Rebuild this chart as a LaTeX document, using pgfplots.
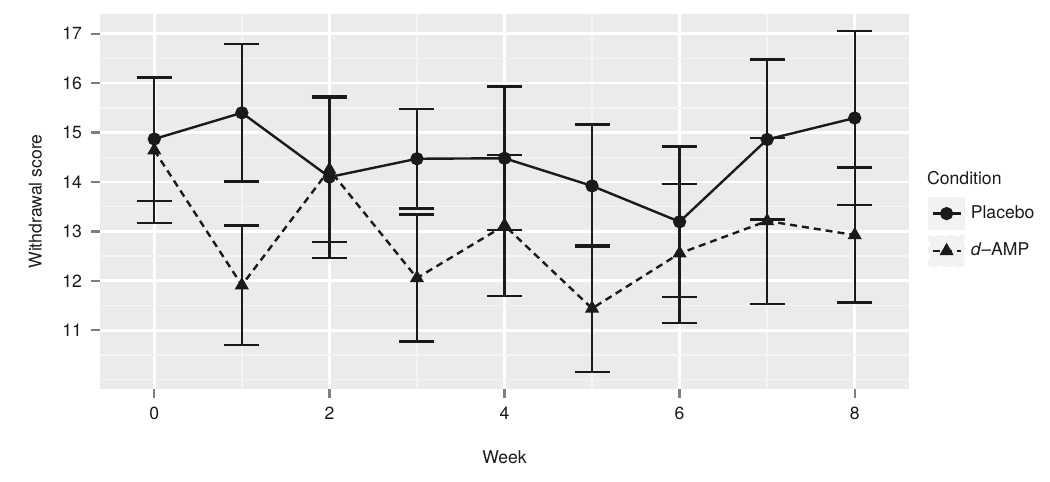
\documentclass[border=0pt]{standalone}
\usepackage{fontspec}
\setmainfont{TeX Gyre Heros}
\usepackage{pgfplots}
\usepackage{pgfplotstable}
\pgfplotsset{compat=1.18}
\definecolor{panelBg}{HTML}{EBEBEB}
\definecolor{minorGrid}{HTML}{F4F4F4}
\definecolor{keyBg}{HTML}{F2F2F2}
\definecolor{tickGray}{HTML}{7F7F7F}
\definecolor{ink}{HTML}{1A1A1A}

% week, mean, half-width of the error bar
\pgfplotstableread{
week mean err
0 14.87 1.25
1 15.40 1.39
2 14.10 1.635
3 14.47 1.01
4 14.48 1.45
5 13.92 1.24
6 13.195 1.525
7 14.86 1.62
8 15.295 1.755
}\placebo

\pgfplotstableread{
week mean err
0 14.64 1.47
1 11.91 1.21
2 14.25 1.46
3 12.055 1.285
4 13.12 1.43
5 11.44 1.28
6 12.555 1.405
7 13.21 1.68
8 12.925 1.365
}\damp

\newcommand{\lblfont}{\fontsize{8.8}{10}\selectfont}

\begin{document}
\begin{tikzpicture}
\path[use as bounding box] (-50pt,-46.5pt) rectangle (475pt,194.5pt);
\begin{axis}[
  at={(0,0)}, anchor=south west,
  scale only axis,
  width=404.5pt, height=187.5pt,
  xmin=-0.62, xmax=8.62,
  ymin=9.81, ymax=17.40,
  xtick={0,2,4,6,8},
  ytick={11,12,...,17},
  minor xtick={1,3,5,7},
  minor ytick={10,10.5,11.5,12.5,13.5,14.5,15.5,16.5},
  grid=both,
  major grid style={draw=white, line width=1.3pt},
  minor grid style={draw=minorGrid, line width=0.7pt},
  axis background/.style={fill=panelBg},
  axis line style={draw=none},
  tick pos=left,
  tick align=outside,
  major tick length=4.5pt,
  minor tick length=0pt,
  major tick style={draw=tickGray, line width=1.2pt},
  /pgf/number format/assume math mode=true,
  tick label style={font=\lblfont, text=ink},
  xticklabel style={yshift=-1pt},
  yticklabel style={xshift=-1pt},
  label style={font=\lblfont, text=ink},
  xlabel={Week},
  xlabel style={at={(axis description cs:0.5,-0.181)}, anchor=center},
  ylabel={Withdrawal score},
  ylabel style={at={(axis description cs:-0.080,0.5)}, anchor=center},
  clip=false,
  legend cell align=left,
  legend style={
    at={(axis description cs:1.0235,0.512)}, anchor=north west,
    draw=none, fill=none, inner sep=0pt,
    font=\lblfont, text=ink,
    row sep=2.5pt,
    /tikz/every odd column/.append style={column sep=1pt},
  },
  legend image code/.code={
    \fill[keyBg] (0pt,-7.5pt) rectangle (17pt,7.5pt);
    \draw[mark repeat=2, mark phase=2, #1] plot coordinates {(1.5pt,0pt) (8.5pt,0pt) (15.5pt,0pt)};
  },
]
\addplot[ink, line width=1.2pt, mark=*, mark size=2.7pt, mark options={solid},
  error bars/.cd, y dir=both, y explicit,
  error bar style={line width=1.2pt, solid},
  error mark options={rotate=90, line width=1.2pt, mark size=8.75pt, solid}]
  table[x=week, y=mean, y error=err] {\placebo};
\addlegendentry{Placebo}
\addplot[ink, line width=1.2pt, dash pattern=on 3.5pt off 2.5pt, mark=triangle*, mark size=2.9pt, mark options={solid},
  error bars/.cd, y dir=both, y explicit,
  error bar style={line width=1.2pt, solid},
  error mark options={rotate=90, line width=1.2pt, mark size=8.75pt, solid}]
  table[x=week, y=mean, y error=err] {\damp};
\addlegendentry{\textit{d}--AMP}
\node[anchor=west, inner sep=0pt, font=\lblfont, text=ink] at (axis description cs:1.022,0.5627) {Condition};
\end{axis}
\end{tikzpicture}
\end{document}
